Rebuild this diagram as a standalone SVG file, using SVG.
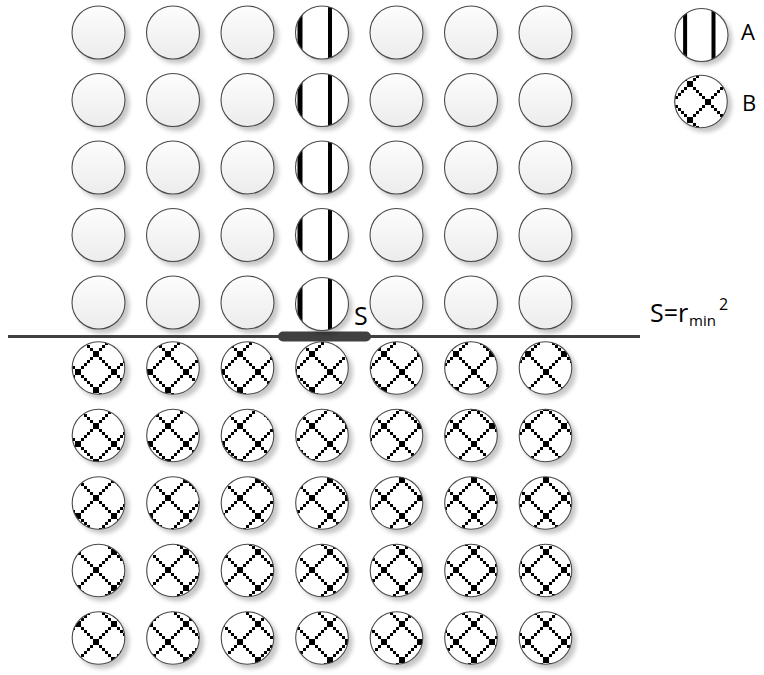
<svg xmlns="http://www.w3.org/2000/svg" xmlns:xlink="http://www.w3.org/1999/xlink" width="764" height="675" viewBox="0 0 764 675">
<style>
.p{fill:url(#gP);stroke:#4a4a4a;stroke-width:1.1;filter:url(#sh)}
.w{fill:#fff;filter:url(#sh)}
.o{fill:none;stroke:#4a4a4a;stroke-width:1.1}
.b{fill:url(#pB);stroke:#4a4a4a;stroke-width:1.1;filter:url(#sh)}
.bar{fill:#000}
.t{font-family:"Open Sans","Noto Sans","Liberation Sans",sans-serif;fill:#000}
</style>
<defs>
<filter id="sh" x="-30%" y="-30%" width="160%" height="160%">
<feDropShadow dx="4" dy="4" stdDeviation="2" flood-color="#000" flood-opacity="0.22"/>
</filter>
<linearGradient id="gP" x1="0" y1="0" x2="0" y2="1">
<stop offset="0" stop-color="#fdfdfd"/>
<stop offset="1" stop-color="#ececec"/>
</linearGradient>
<clipPath id="cc"><circle r="26.5"/></clipPath>
<pattern id="pB" patternUnits="userSpaceOnUse" x="6" y="12" width="36" height="36">
<rect width="36" height="36" fill="#fff"/>
<path fill="#000" d="M0 0h3v3h-3zM3 3h3v3h-3zM6 6h3v3h-3zM9 9h3v3h-3zM12 12h3v3h-3zM15 15h3v3h-3zM18 18h3v3h-3zM21 21h3v3h-3zM24 24h3v3h-3zM27 27h3v3h-3zM30 30h3v3h-3zM33 33h3v3h-3zM33 0h3v3h-3zM30 3h3v3h-3zM27 6h3v3h-3zM24 9h3v3h-3zM21 12h3v3h-3zM18 15h3v3h-3zM15 18h3v3h-3zM12 21h3v3h-3zM9 24h3v3h-3zM6 27h3v3h-3zM3 30h3v3h-3zM0 33h3v3h-3z"/>
</pattern>
</defs>

<g id="connectors">
<line x1="8" y1="336.5" x2="640" y2="336.5" stroke="#404040" stroke-width="3"/>
<rect x="278" y="331.5" width="93" height="10" rx="5" fill="#404040"/>
</g>

<!-- top rows: plain circles, column 4 type A -->
<g id="p-r1c1"><circle class="p" cx="98.5" cy="32.5" r="26.5"/></g>
<g id="p-r1c2"><circle class="p" cx="173" cy="32.5" r="26.5"/></g>
<g id="p-r1c3"><circle class="p" cx="247.5" cy="32.5" r="26.5"/></g>
<g id="a-r1c4" transform="translate(322,32.5)"><circle class="w" r="26.5"/><g clip-path="url(#cc)"><rect class="bar" x="-24.5" y="-27" width="5" height="54"/><rect class="bar" x="6" y="-27" width="4" height="54"/></g><circle class="o" r="26.5"/></g>
<g id="p-r1c5"><circle class="p" cx="396.5" cy="32.5" r="26.5"/></g>
<g id="p-r1c6"><circle class="p" cx="471" cy="32.5" r="26.5"/></g>
<g id="p-r1c7"><circle class="p" cx="545.5" cy="32.5" r="26.5"/></g>

<g id="p-r2c1"><circle class="p" cx="98.5" cy="100" r="26.5"/></g>
<g id="p-r2c2"><circle class="p" cx="173" cy="100" r="26.5"/></g>
<g id="p-r2c3"><circle class="p" cx="247.5" cy="100" r="26.5"/></g>
<g id="a-r2c4" transform="translate(322,100)"><circle class="w" r="26.5"/><g clip-path="url(#cc)"><rect class="bar" x="-24.5" y="-27" width="5" height="54"/><rect class="bar" x="6" y="-27" width="4" height="54"/></g><circle class="o" r="26.5"/></g>
<g id="p-r2c5"><circle class="p" cx="396.5" cy="100" r="26.5"/></g>
<g id="p-r2c6"><circle class="p" cx="471" cy="100" r="26.5"/></g>
<g id="p-r2c7"><circle class="p" cx="545.5" cy="100" r="26.5"/></g>

<g id="p-r3c1"><circle class="p" cx="98.5" cy="167.5" r="26.5"/></g>
<g id="p-r3c2"><circle class="p" cx="173" cy="167.5" r="26.5"/></g>
<g id="p-r3c3"><circle class="p" cx="247.5" cy="167.5" r="26.5"/></g>
<g id="a-r3c4" transform="translate(322,167.5)"><circle class="w" r="26.5"/><g clip-path="url(#cc)"><rect class="bar" x="-24.5" y="-27" width="5" height="54"/><rect class="bar" x="6" y="-27" width="4" height="54"/></g><circle class="o" r="26.5"/></g>
<g id="p-r3c5"><circle class="p" cx="396.5" cy="167.5" r="26.5"/></g>
<g id="p-r3c6"><circle class="p" cx="471" cy="167.5" r="26.5"/></g>
<g id="p-r3c7"><circle class="p" cx="545.5" cy="167.5" r="26.5"/></g>

<g id="p-r4c1"><circle class="p" cx="98.5" cy="235" r="26.5"/></g>
<g id="p-r4c2"><circle class="p" cx="173" cy="235" r="26.5"/></g>
<g id="p-r4c3"><circle class="p" cx="247.5" cy="235" r="26.5"/></g>
<g id="a-r4c4" transform="translate(322,235)"><circle class="w" r="26.5"/><g clip-path="url(#cc)"><rect class="bar" x="-24.5" y="-27" width="5" height="54"/><rect class="bar" x="6" y="-27" width="4" height="54"/></g><circle class="o" r="26.5"/></g>
<g id="p-r4c5"><circle class="p" cx="396.5" cy="235" r="26.5"/></g>
<g id="p-r4c6"><circle class="p" cx="471" cy="235" r="26.5"/></g>
<g id="p-r4c7"><circle class="p" cx="545.5" cy="235" r="26.5"/></g>

<g id="p-r5c1"><circle class="p" cx="98.5" cy="302.5" r="26.5"/></g>
<g id="p-r5c2"><circle class="p" cx="173" cy="302.5" r="26.5"/></g>
<g id="p-r5c3"><circle class="p" cx="247.5" cy="302.5" r="26.5"/></g>
<g id="a-r5c4" transform="translate(322,304)"><circle class="w" r="26.5"/><g clip-path="url(#cc)"><rect class="bar" x="-24.5" y="-27" width="5" height="54"/><rect class="bar" x="6" y="-27" width="4" height="54"/></g><circle class="o" r="26.5"/></g>
<g id="p-r5c5"><circle class="p" cx="396.5" cy="302.5" r="26.5"/></g>
<g id="p-r5c6"><circle class="p" cx="471" cy="302.5" r="26.5"/></g>
<g id="p-r5c7"><circle class="p" cx="545.5" cy="302.5" r="26.5"/></g>

<!-- bottom rows: type B -->
<g id="b-r6c1"><circle class="b" cx="98.5" cy="368" r="26.3"/></g>
<g id="b-r6c2"><circle class="b" cx="173" cy="368" r="26.3"/></g>
<g id="b-r6c3"><circle class="b" cx="247.5" cy="368" r="26.3"/></g>
<g id="b-r6c4"><circle class="b" cx="322" cy="368" r="26.3"/></g>
<g id="b-r6c5"><circle class="b" cx="396.5" cy="368" r="26.3"/></g>
<g id="b-r6c6"><circle class="b" cx="471" cy="368" r="26.3"/></g>
<g id="b-r6c7"><circle class="b" cx="545.5" cy="368" r="26.3"/></g>

<g id="b-r7c1"><circle class="b" cx="98.5" cy="435.5" r="26.3"/></g>
<g id="b-r7c2"><circle class="b" cx="173" cy="435.5" r="26.3"/></g>
<g id="b-r7c3"><circle class="b" cx="247.5" cy="435.5" r="26.3"/></g>
<g id="b-r7c4"><circle class="b" cx="322" cy="435.5" r="26.3"/></g>
<g id="b-r7c5"><circle class="b" cx="396.5" cy="435.5" r="26.3"/></g>
<g id="b-r7c6"><circle class="b" cx="471" cy="435.5" r="26.3"/></g>
<g id="b-r7c7"><circle class="b" cx="545.5" cy="435.5" r="26.3"/></g>

<g id="b-r8c1"><circle class="b" cx="98.5" cy="503" r="26.3"/></g>
<g id="b-r8c2"><circle class="b" cx="173" cy="503" r="26.3"/></g>
<g id="b-r8c3"><circle class="b" cx="247.5" cy="503" r="26.3"/></g>
<g id="b-r8c4"><circle class="b" cx="322" cy="503" r="26.3"/></g>
<g id="b-r8c5"><circle class="b" cx="396.5" cy="503" r="26.3"/></g>
<g id="b-r8c6"><circle class="b" cx="471" cy="503" r="26.3"/></g>
<g id="b-r8c7"><circle class="b" cx="545.5" cy="503" r="26.3"/></g>

<g id="b-r9c1"><circle class="b" cx="98.5" cy="570.5" r="26.3"/></g>
<g id="b-r9c2"><circle class="b" cx="173" cy="570.5" r="26.3"/></g>
<g id="b-r9c3"><circle class="b" cx="247.5" cy="570.5" r="26.3"/></g>
<g id="b-r9c4"><circle class="b" cx="322" cy="570.5" r="26.3"/></g>
<g id="b-r9c5"><circle class="b" cx="396.5" cy="570.5" r="26.3"/></g>
<g id="b-r9c6"><circle class="b" cx="471" cy="570.5" r="26.3"/></g>
<g id="b-r9c7"><circle class="b" cx="545.5" cy="570.5" r="26.3"/></g>

<g id="b-r10c1"><circle class="b" cx="98.5" cy="638" r="26.3"/></g>
<g id="b-r10c2"><circle class="b" cx="173" cy="638" r="26.3"/></g>
<g id="b-r10c3"><circle class="b" cx="247.5" cy="638" r="26.3"/></g>
<g id="b-r10c4"><circle class="b" cx="322" cy="638" r="26.3"/></g>
<g id="b-r10c5"><circle class="b" cx="396.5" cy="638" r="26.3"/></g>
<g id="b-r10c6"><circle class="b" cx="471" cy="638" r="26.3"/></g>
<g id="b-r10c7"><circle class="b" cx="545.5" cy="638" r="26.3"/></g>

<!-- legend -->
<g id="legend-A">
<g transform="translate(701.5,35)"><circle class="w" r="26.5"/><g clip-path="url(#cc)"><rect class="bar" x="-18.4" y="-27" width="4" height="54"/><rect class="bar" x="10" y="-27" width="4" height="54"/></g><circle class="o" r="26.5"/></g>
<text class="t" x="741" y="39.5" font-size="22">A</text>
</g>
<g id="legend-B">
<circle class="b" cx="701" cy="101.5" r="26.3"/>
<text class="t" x="742" y="110.5" font-size="22">B</text>
</g>

<g id="label-S"><text class="t" x="354" y="325" font-size="25">S</text></g>
<g id="label-formula"><text class="t" x="650" y="321.7" font-size="25">S=r<tspan x="689" y="326" font-size="15">min</tspan><tspan x="719" y="310" font-size="16">2</tspan></text></g>
</svg>
